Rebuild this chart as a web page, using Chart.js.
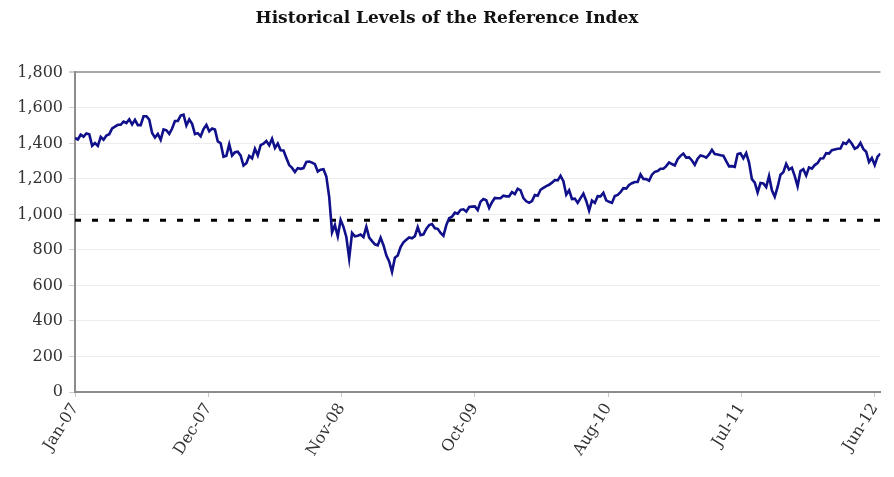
<!DOCTYPE html>
<html>
<head>
<meta charset="utf-8">
<script src="https://cdn.jsdelivr.net/npm/chart.js@4.4.1/dist/chart.umd.min.js"></script>
<style>
  html, body { margin: 0; padding: 0; background: #fff; overflow: hidden; }
  canvas { display: block; }
</style>
</head>
<body>
<canvas id="chart" width="894" height="477"></canvas>
<script>
// weekly levels, one value per week (Fridays), Jan-07 .. mid Jun-12
const levels2007 = [1431, 1422,
  1449, 1438, 1456, 1451,
  1387, 1402, 1386, 1437, 1421,
  1444, 1452, 1484, 1495,
  1505, 1505, 1523, 1515,
  1536, 1507, 1533, 1503, 1503,
  1553, 1553, 1534, 1459,
  1433, 1453, 1420, 1479, 1474,
  1454, 1484, 1526, 1527,
  1557, 1562, 1501, 1535,
  1510, 1453, 1458, 1440, 1481,
  1504, 1468, 1484, 1478]
const levels2008 = [1411, 1401, 1325, 1331,
  1395, 1332, 1350, 1353, 1331,
  1275, 1288, 1330, 1316,
  1370, 1333, 1390, 1398,
  1414, 1389, 1426, 1375, 1400,
  1361, 1360, 1318, 1278,
  1262, 1239, 1261, 1257,
  1261, 1296, 1298, 1292, 1283,
  1242, 1252, 1255, 1213,
  1099, 899, 940, 877, 969,
  930, 873, 752, 896,
  877, 880, 887, 872]
const levels2009 = [931, 870, 850, 832, 826,
  869, 827, 770, 735,
  676, 756, 769, 816,
  843, 857, 870, 866,
  878, 929, 883, 888, 919,
  940, 946, 922, 919,
  896, 880, 940, 979, 987,
  1010, 1004, 1026, 1029,
  1016, 1042, 1044, 1045,
  1025, 1072, 1087, 1080, 1036,
  1069, 1093, 1091, 1091,
  1106, 1102, 1102, 1126]
const levels2010 = [1115, 1145, 1136, 1092, 1074,
  1066, 1075, 1109, 1105,
  1139, 1150, 1160, 1167,
  1179, 1194, 1192, 1217, 1187,
  1111, 1136, 1087, 1089,
  1065, 1092, 1117, 1076,
  1022, 1078, 1065, 1103, 1102,
  1122, 1079, 1071, 1065,
  1104, 1110, 1126, 1148,
  1146, 1166, 1176, 1183, 1183,
  1226, 1200, 1199, 1190,
  1224, 1240, 1244, 1257, 1258]
const levels2011 = [1272, 1293, 1284, 1276,
  1311, 1330, 1343, 1320,
  1321, 1304, 1279, 1314,
  1332, 1328, 1320, 1338, 1364,
  1340, 1338, 1333, 1331,
  1300, 1271, 1272, 1268,
  1340, 1344, 1316, 1345, 1292,
  1199, 1179, 1124, 1177,
  1174, 1154, 1216, 1136, 1100,
  1155, 1224, 1238, 1285,
  1253, 1263, 1216, 1159,
  1244, 1255, 1219, 1265, 1258]
const levels2012 = [1278, 1289, 1315, 1316,
  1345, 1343, 1362, 1366,
  1370, 1371, 1404, 1397, 1419,
  1398, 1370, 1379, 1403,
  1369, 1353, 1295, 1318,
  1278, 1326, 1343]

const tickLabels = ['Jan-07', 'Dec-07', 'Nov-08', 'Oct-09', 'Aug-10', 'Jul-11', 'Jun-12']
const tickWeeks = [0, 46.67, 93.33, 140, 186.67, 233.33, 280]
const thresholdLevel = 968

const levels = [].concat(levels2007, levels2008, levels2009, levels2010, levels2011, levels2012)
const lastWeek = levels.length - 1
const series = levels.map((v, i) => ({ x: i, y: v }))
const threshold = [{ x: 0, y: thresholdLevel }, { x: lastWeek, y: thresholdLevel }]

const tickFont = { family: 'DejaVu Serif', size: 16 }

new Chart(document.getElementById('chart'), {
  type: 'line',
  data: {
    datasets: [
      { data: series, borderColor: '#10108a', borderWidth: 2.6, pointRadius: 0, tension: 0 },
      { data: threshold, borderColor: '#000', borderWidth: 3, borderDash: [6, 11], pointRadius: 0 }
    ]
  },
  options: {
    responsive: false,
    animation: false,
    layout: { padding: { top: 4, left: 0, right: 0, bottom: 0 } },
    plugins: {
      legend: { display: false },
      tooltip: { enabled: false },
      title: {
        display: true,
        text: 'Historical Levels of the Reference Index',
        color: '#111',
        font: { family: 'DejaVu Serif', size: 17, weight: 'bold' },
        padding: { top: 4, bottom: 44 }
      }
    },
    scales: {
      x: {
        type: 'linear',
        min: 0,
        max: lastWeek,
        afterBuildTicks: s => { s.ticks = tickWeeks.map(v => ({ value: v })) },
        afterFit: s => { s.height = 85 },
        grid: { drawOnChartArea: false, tickLength: 5, tickColor: '#c8c8c8' },
        border: { color: '#8c8c8c', width: 2 },
        ticks: {
          autoSkip: false,
          minRotation: 58,
          maxRotation: 58,
          padding: 3,
          color: '#333',
          font: tickFont,
          callback: (v, i) => tickLabels[i]
        }
      },
      y: {
        min: 0,
        max: 1800,
        afterFit: s => { s.width = 75 },
        grid: {
          color: ctx => ctx.tick && ctx.tick.value === 1800 ? '#a8a8a8' : '#ececec',
          lineWidth: ctx => ctx.tick && ctx.tick.value === 1800 ? 2 : 1,
          tickLength: 6,
          tickColor: '#d0d0d0'
        },
        border: { color: '#8c8c8c', width: 2 },
        ticks: {
          stepSize: 200,
          padding: 6,
          color: '#333',
          font: tickFont,
          callback: v => v.toLocaleString('en-US')
        }
      }
    }
  }
})
</script>
</body>
</html>
